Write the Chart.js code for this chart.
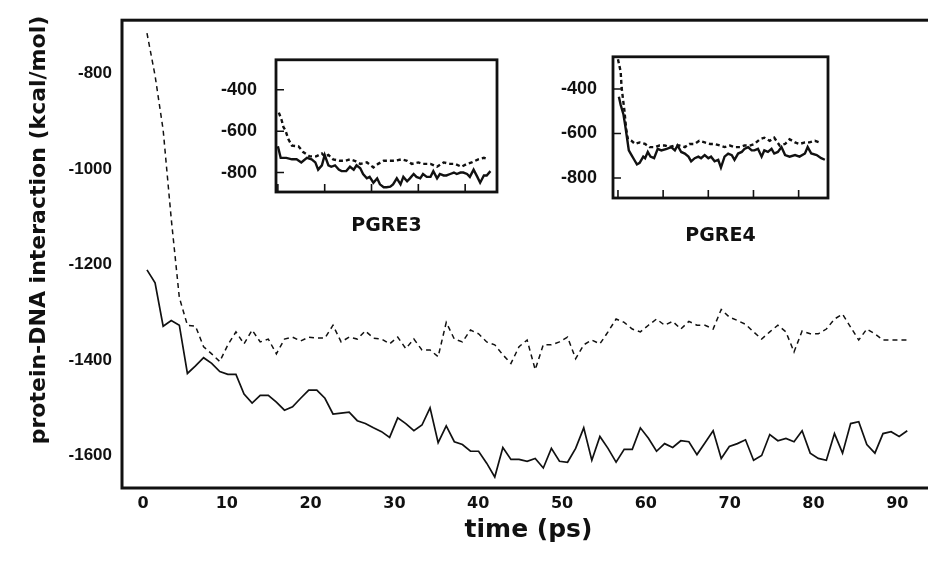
<!DOCTYPE html>
<html><head><meta charset="utf-8">
<script src="https://cdn.jsdelivr.net/npm/chart.js@4.4.0/dist/chart.umd.min.js"></script>
<style>
html,body{margin:0;padding:0;background:#fff;overflow:hidden;width:928px;height:564px;}
#wrap{position:relative;width:928px;height:564px;overflow:hidden;background:#fff;}
canvas{position:absolute;display:block;}
</style></head><body>
<div id="wrap">
<canvas id="main" width="940" height="564" style="left:0;top:0;width:940px;height:564px"></canvas>
<canvas id="in3" width="310" height="220" style="left:200px;top:30px;width:310px;height:220px"></canvas>
<canvas id="in4" width="300" height="230" style="left:540px;top:30px;width:300px;height:230px"></canvas>
</div>
<script>
// ---------- main chart data ----------
const TIME_START = 0.48;   // ps, first sample
const TIME_STEP = 0.965;   // ps between samples
const solidSeries = [-1211,-1238,-1329,-1317,-1327,-1428,-1412,-1395,-1407,-1424,
-1430,-1430,-1471,-1490,-1474,-1474,-1488,-1505,-1498,-1480,
-1463,-1463,-1480,-1513,-1511,-1509,-1527,-1533,-1542,-1550,
-1562,-1521,-1533,-1548,-1536,-1500,-1573,-1538,-1571,-1577,
-1591,-1591,-1616,-1645,-1583,-1608,-1608,-1612,-1606,-1626,
-1585,-1612,-1614,-1585,-1542,-1610,-1560,-1585,-1614,-1587,
-1587,-1542,-1564,-1591,-1575,-1583,-1569,-1571,-1598,-1573,
-1548,-1606,-1581,-1575,-1567,-1610,-1600,-1556,-1569,-1564,
-1571,-1548,-1595,-1606,-1610,-1554,-1595,-1533,-1529,-1577,
-1595,-1554,-1550,-1560,-1548];
const dashedSeries = [-715,-804,-918,-1104,-1269,-1327,-1329,-1372,-1387,-1403,
-1368,-1341,-1366,-1337,-1362,-1356,-1387,-1356,-1352,-1360,
-1352,-1354,-1354,-1327,-1362,-1352,-1356,-1339,-1354,-1356,
-1366,-1352,-1376,-1356,-1379,-1379,-1393,-1321,-1356,-1362,
-1337,-1345,-1362,-1368,-1389,-1407,-1372,-1358,-1420,-1368,
-1368,-1362,-1352,-1397,-1368,-1358,-1366,-1341,-1314,-1321,
-1335,-1341,-1327,-1314,-1327,-1319,-1335,-1319,-1327,-1327,
-1335,-1294,-1310,-1317,-1325,-1341,-1356,-1341,-1327,-1341,
-1383,-1339,-1345,-1345,-1335,-1314,-1304,-1331,-1358,-1335,
-1345,-1358,-1358,-1358,-1358];
const mainXTicks = [0,10,20,30,40,50,60,70,80,90];
const mainYTicks = [-800,-1000,-1200,-1400,-1600];
const X_TITLE = 'time (ps)';
const Y_TITLE = 'protein-DNA interaction (kcal/mol)';

// ---------- inset PGRE3 ----------
const pgre3DashedTime = [1,4,6,8,11,15,22,27,34,41,47,50,54,59,66,72,77,82,88,95,102,107,113,120,125,132,138,143,150,155,163,170,177,184,189,196,202,207,214,220,225];
const pgre3DashedValue = [-510,-546,-581,-595,-637,-670,-673,-701,-722,-722,-708,-722,-715,-736,-743,-743,-736,-743,-758,-751,-775,-758,-743,-743,-743,-736,-743,-758,-751,-758,-758,-772,-751,-758,-758,-772,-758,-751,-736,-729,-736];
const pgre3SolidTime = [0,3,9,15,20,25,31,36,40,43,47,50,54,57,61,65,68,73,77,81,84,88,91,95,98,102,106,109,113,116,120,123,127,131,134,138,141,145,148,152,155,159,163,166,170,173,177,180,184,188,191,195,198,202,205,209,213,216,220,223,227];
const pgre3SolidValue = [-673,-729,-729,-736,-736,-751,-729,-736,-751,-786,-765,-715,-765,-772,-765,-786,-793,-793,-772,-786,-765,-779,-807,-828,-821,-849,-828,-857,-871,-871,-868,-857,-828,-857,-821,-842,-828,-807,-821,-828,-807,-821,-821,-793,-828,-807,-814,-814,-807,-800,-807,-800,-800,-807,-821,-786,-821,-849,-814,-814,-793];

// ---------- inset PGRE4 ----------
const pgre4DashedTime = [0,3,4,7,9,11,15,19,24,30,35,41,46,52,57,63,68,74,79,85,90,96,102,107,113,118,124,129,135,140,146,151,157,162,168,173,179,185,190,196,201,207,212,218,223];
const pgre4DashedValue = [-266,-322,-393,-492,-577,-626,-633,-647,-640,-647,-661,-661,-654,-654,-661,-654,-654,-661,-647,-647,-633,-640,-647,-647,-654,-661,-654,-661,-661,-654,-654,-647,-626,-619,-633,-619,-654,-647,-626,-640,-647,-640,-640,-633,-640];
const pgre4SolidTime = [1,3,6,8,10,12,15,18,21,24,28,30,33,36,40,44,48,54,59,63,66,70,74,78,81,85,89,92,96,100,103,107,111,114,118,122,126,129,133,137,140,144,148,151,155,159,162,166,170,173,177,181,185,190,196,201,207,210,214,220,225,229];
const pgre4SolidValue = [-435,-471,-513,-563,-619,-676,-697,-718,-739,-732,-704,-711,-683,-704,-711,-669,-676,-669,-661,-676,-654,-683,-690,-704,-725,-711,-704,-711,-697,-711,-704,-725,-718,-753,-704,-690,-697,-718,-690,-683,-669,-661,-676,-676,-669,-704,-676,-683,-669,-690,-683,-661,-697,-704,-697,-704,-690,-661,-690,-697,-711,-718];

const insetYTicks = [-400,-600,-800];
const insetXTicks = [0,50,100,150,200];

// ---------- helpers ----------
const INK = '#111';
const pts = (xs, ys) => ys.map((v, i) => ({x: xs[i], y: v}));
const mainPts = ys => ys.map((v, i) => ({x: TIME_START + i * TIME_STEP, y: v}));
const plainLabel = v => String(v);

const mainDeco = {
  id: 'mainDeco',
  afterDraw(chart) {
    const {ctx, chartArea: a} = chart;
    ctx.save();
    ctx.strokeStyle = INK; ctx.lineWidth = 3;
    ctx.strokeRect(a.left, a.top, a.right - a.left, a.bottom - a.top);
    ctx.translate(39, 230); ctx.rotate(-Math.PI / 2);
    ctx.font = 'bold 22px "DejaVu Sans"';
    ctx.fillStyle = INK; ctx.textAlign = 'center'; ctx.textBaseline = 'middle';
    ctx.fillText(Y_TITLE, 0, 0);
    ctx.restore();
  }
};

new Chart(document.getElementById('main'), {
  type: 'line',
  data: { datasets: [
    { label: 'solid', data: mainPts(solidSeries), borderColor: INK, borderWidth: 1.7, pointRadius: 0, tension: 0, fill: false },
    { label: 'dashed', data: mainPts(dashedSeries), borderColor: INK, borderWidth: 1.5, borderDash: [5, 4], pointRadius: 0, tension: 0, fill: false }
  ]},
  options: {
    responsive: false, animation: false, devicePixelRatio: 1,
    layout: { padding: { left: 0, top: 14, right: 5, bottom: 0 } },
    plugins: { legend: { display: false }, tooltip: { enabled: false } },
    scales: {
      x: {
        type: 'linear', min: -2.5, max: 94.5,
        afterBuildTicks: s => { s.ticks = mainXTicks.map(v => ({ value: v })); },
        afterFit: s => { s.height = 76; },
        grid: { display: false, drawTicks: false }, border: { display: false },
        ticks: { color: INK, padding: 6, maxRotation: 0, callback: plainLabel, font: { family: '"DejaVu Sans"', weight: 'bold', size: 16 } },
        title: { display: true, text: X_TITLE, color: INK, padding: { top: 0, bottom: 19 }, font: { family: '"DejaVu Sans"', weight: 'bold', size: 25 } }
      },
      y: {
        type: 'linear', min: -1668, max: -688,
        afterBuildTicks: s => { s.ticks = mainYTicks.map(v => ({ value: v })); },
        afterFit: s => { s.width = 122; },
        grid: { display: false, drawTicks: false }, border: { display: false },
        ticks: { color: INK, padding: 10, callback: plainLabel, font: { family: '"Liberation Sans Narrow", "Liberation Sans", Arial, sans-serif', weight: 'bold', size: 17 } }
      }
    }
  },
  plugins: [mainDeco]
});

const insetDeco = {
  id: 'insetDeco',
  afterDraw(chart) {
    const {ctx, chartArea: a, scales} = chart;
    ctx.save();
    ctx.strokeStyle = INK; ctx.lineWidth = 1.6;
    ctx.beginPath();
    insetYTicks.forEach(v => { const y = scales.y.getPixelForValue(v); ctx.moveTo(a.left, y); ctx.lineTo(a.left + 8, y); });
    insetXTicks.forEach(v => { const x = scales.x.getPixelForValue(v); ctx.moveTo(x, a.bottom); ctx.lineTo(x, a.bottom - 8); });
    ctx.stroke();
    ctx.lineWidth = 2.8;
    ctx.strokeRect(a.left, a.top, a.right - a.left, a.bottom - a.top);
    ctx.restore();
  }
};

function makeInset(id, cfg) {
  new Chart(document.getElementById(id), {
    type: 'line',
    data: { datasets: [
      { label: 'solid', data: pts(cfg.solidT, cfg.solidV), borderColor: INK, borderWidth: 2.4, pointRadius: 0, tension: 0, fill: false },
      { label: 'dashed', data: pts(cfg.dashT, cfg.dashV), borderColor: INK, borderWidth: 2.4, borderDash: [4, 3], pointRadius: 0, tension: 0, fill: false }
    ]},
    options: {
      responsive: false, animation: false, devicePixelRatio: 1,
      layout: { padding: { left: 0, top: cfg.padTop, right: cfg.padRight, bottom: 0 } },
      plugins: { legend: { display: false }, tooltip: { enabled: false } },
      scales: {
        x: {
          type: 'linear', min: cfg.xMin, max: cfg.xMax,
          afterBuildTicks: s => { s.ticks = insetXTicks.map(v => ({ value: v })); },
          afterFit: s => { s.height = cfg.xHeight; },
          grid: { display: false, drawTicks: false }, border: { display: false },
          ticks: { display: false },
          title: { display: true, text: cfg.name, color: INK, padding: { top: 0, bottom: cfg.titlePad }, font: { family: '"DejaVu Sans"', weight: 'bold', size: 19 } }
        },
        y: {
          type: 'linear', min: cfg.yMin, max: cfg.yMax,
          afterBuildTicks: s => { s.ticks = insetYTicks.map(v => ({ value: v })); },
          afterFit: s => { s.width = cfg.yWidth; },
          grid: { display: false, drawTicks: false }, border: { display: false },
          ticks: { color: INK, padding: cfg.labelPad, callback: plainLabel, font: { family: '"Liberation Sans", Arial, sans-serif', weight: 'bold', size: 18 } }
        }
      }
    },
    plugins: [insetDeco]
  });
}

makeInset('in3', { name: 'PGRE3', solidT: pgre3SolidTime, solidV: pgre3SolidValue, dashT: pgre3DashedTime, dashV: pgre3DashedValue,
  xMin: -2, xMax: 234, yMin: -894, yMax: -255, padTop: 13, padRight: 13, xHeight: 58, yWidth: 76, labelPad: 19, titlePad: 13 });
makeInset('in4', { name: 'PGRE4', solidT: pgre4SolidTime, solidV: pgre4SolidValue, dashT: pgre4DashedTime, dashV: pgre4DashedValue,
  xMin: -5.5, xMax: 232.5, yMin: -890, yMax: -255, padTop: 18, padRight: 12, xHeight: 62, yWidth: 73, labelPad: 16, titlePad: 13 });
</script>
</body></html>
